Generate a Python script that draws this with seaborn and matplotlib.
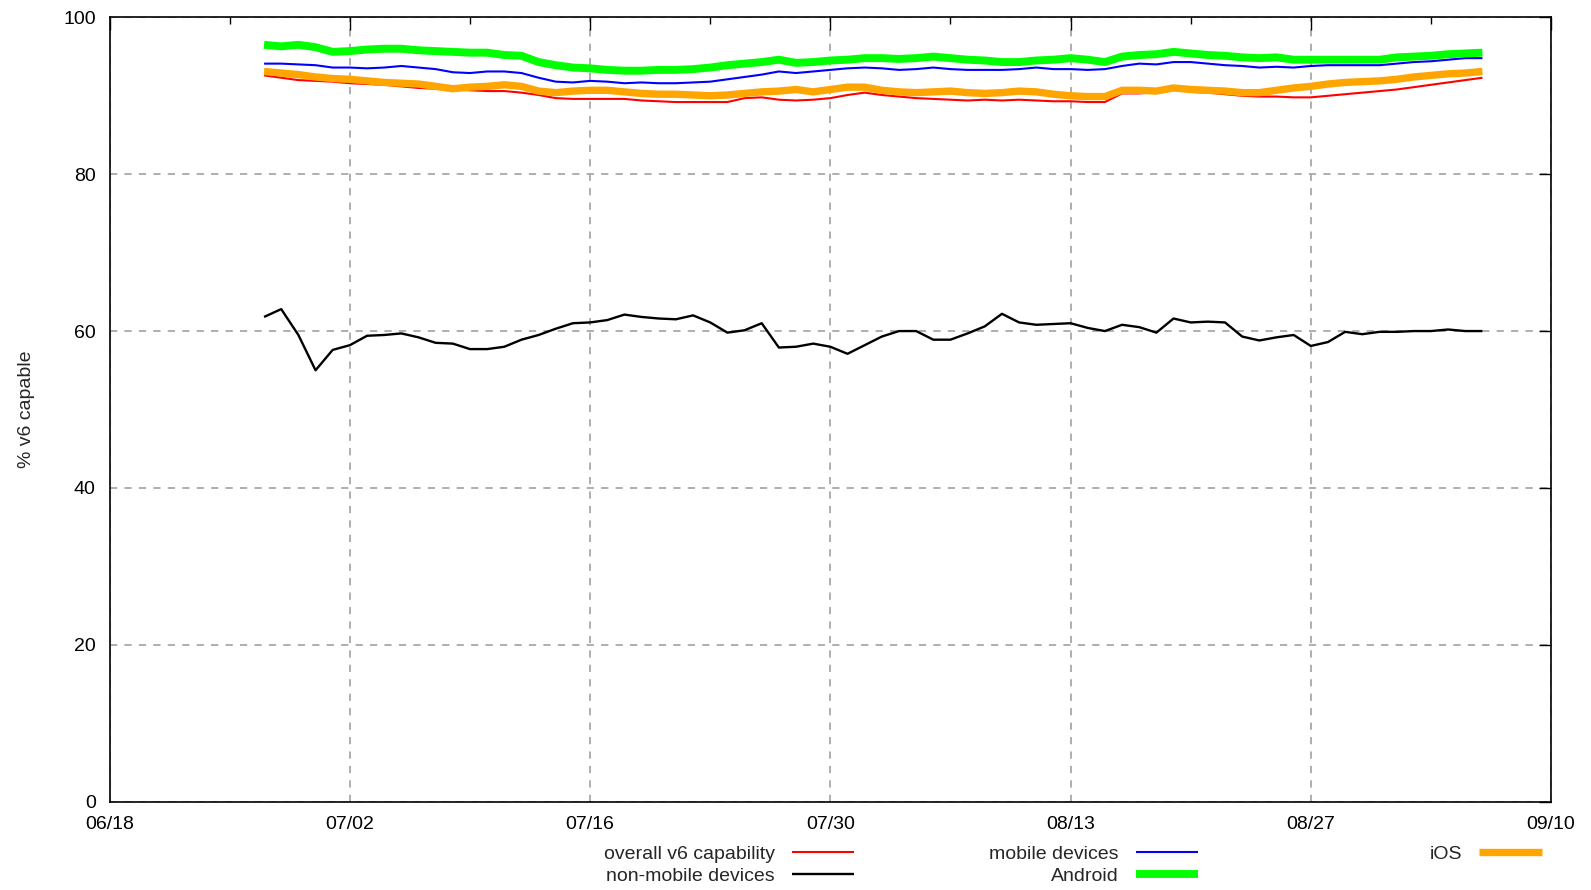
import matplotlib
matplotlib.use('Agg')
import matplotlib.pyplot as plt
import matplotlib.dates as mdates
import pandas as pd
import seaborn as sns

# daily values, 06/27 .. 09/06
dates = pd.date_range('2018-06-27', '2018-09-06', freq='D')

overall = [92.6, 92.3, 92.0, 91.9, 91.8, 91.6, 91.5, 91.4, 91.2, 91.0, 90.9, 90.8, 90.7, 90.6, 90.6, 90.4, 90.1, 89.7,
           89.6, 89.6, 89.6, 89.6, 89.4, 89.3, 89.2, 89.2, 89.2, 89.2, 89.7, 89.8, 89.5, 89.4, 89.5, 89.7, 90.1, 90.4,
           90.1, 89.9, 89.7, 89.6, 89.5, 89.4, 89.5, 89.4, 89.5, 89.4, 89.3, 89.3, 89.2, 89.2, 90.3, 90.3, 90.5, 90.8,
           90.5, 90.4, 90.2, 90.0, 89.9, 89.9, 89.8, 89.8, 90.0, 90.2, 90.4, 90.6, 90.8, 91.1, 91.4, 91.7, 92.0, 92.3]
non_mobile = [61.8, 62.8, 59.5, 55.0, 57.6, 58.2, 59.4, 59.5, 59.7, 59.2, 58.5, 58.4, 57.7, 57.7, 58.0, 58.9, 59.5, 60.3,
              61.0, 61.1, 61.4, 62.1, 61.8, 61.6, 61.5, 62.0, 61.1, 59.8, 60.1, 61.0, 57.9, 58.0, 58.4, 58.0, 57.1, 58.2,
              59.3, 60.0, 60.0, 58.9, 58.9, 59.7, 60.6, 62.2, 61.1, 60.8, 60.9, 61.0, 60.4, 60.0, 60.8, 60.5, 59.8, 61.6,
              61.1, 61.2, 61.1, 59.3, 58.8, 59.2, 59.5, 58.1, 58.6, 59.9, 59.6, 59.9, 59.9, 60.0, 60.0, 60.2, 60.0, 60.0]
mobile = [94.1, 94.1, 94.0, 93.9, 93.6, 93.6, 93.5, 93.6, 93.8, 93.6, 93.4, 93.0, 92.9, 93.1, 93.1, 92.9, 92.3, 91.8,
          91.7, 91.9, 91.8, 91.6, 91.7, 91.6, 91.6, 91.7, 91.8, 92.1, 92.4, 92.7, 93.1, 92.9, 93.1, 93.3, 93.5, 93.6,
          93.5, 93.3, 93.4, 93.6, 93.4, 93.3, 93.3, 93.3, 93.4, 93.6, 93.4, 93.4, 93.3, 93.4, 93.8, 94.1, 94.0, 94.3,
          94.3, 94.1, 93.9, 93.8, 93.6, 93.7, 93.6, 93.8, 93.9, 93.9, 93.9, 93.9, 94.1, 94.3, 94.4, 94.6, 94.8, 94.8]
android = [96.5, 96.3, 96.5, 96.2, 95.6, 95.7, 95.9, 96.0, 96.0, 95.8, 95.7, 95.6, 95.5, 95.5, 95.2, 95.1, 94.3, 93.9,
           93.6, 93.5, 93.3, 93.2, 93.2, 93.3, 93.3, 93.4, 93.6, 93.9, 94.1, 94.3, 94.6, 94.2, 94.3, 94.5, 94.6, 94.8,
           94.8, 94.7, 94.8, 95.0, 94.8, 94.6, 94.5, 94.3, 94.3, 94.5, 94.6, 94.8, 94.6, 94.3, 95.0, 95.2, 95.3, 95.6,
           95.4, 95.2, 95.1, 94.9, 94.8, 94.9, 94.6, 94.6, 94.6, 94.6, 94.6, 94.6, 94.9, 95.0, 95.1, 95.3, 95.4, 95.5]
ios = [93.1, 92.9, 92.7, 92.4, 92.2, 92.1, 91.9, 91.7, 91.6, 91.5, 91.2, 90.9, 91.1, 91.2, 91.4, 91.2, 90.6, 90.4,
       90.6, 90.7, 90.7, 90.5, 90.3, 90.2, 90.2, 90.1, 90.0, 90.1, 90.3, 90.5, 90.6, 90.8, 90.5, 90.8, 91.1, 91.1,
       90.7, 90.5, 90.4, 90.5, 90.6, 90.4, 90.3, 90.4, 90.6, 90.5, 90.2, 90.0, 89.9, 89.9, 90.7, 90.7, 90.6, 91.0,
       90.8, 90.7, 90.6, 90.4, 90.4, 90.7, 91.0, 91.2, 91.5, 91.7, 91.8, 91.9, 92.1, 92.4, 92.6, 92.8, 92.9, 93.1]

sns.set_style('white')
plt.rcParams['font.family'] = ['Liberation Sans', 'DejaVu Sans']
FS = 14

fig = plt.figure(figsize=(15.91, 8.90), dpi=100)
ax = fig.add_axes([0.0689, 0.0993, 0.906, 0.8812])

styles = [
    ('overall v6 capability', overall, '#ff0000', 1.5),
    ('mobile devices', mobile, '#0000ff', 1.5),
    ('non-mobile devices', non_mobile, '#000000', 1.7),
    ('Android', android, '#00ff00', 5.7),
    ('iOS', ios, '#ffa500', 5.3),
]
handles = {}
for name, vals, color, lw in styles:
    sns.lineplot(x=dates, y=vals, color=color, linewidth=lw, label=name, legend=False, ax=ax,
                 solid_capstyle='butt')
    handles[name] = ax.lines[-1]

ax.set_xlim(pd.Timestamp('2018-06-18'), pd.Timestamp('2018-09-10'))
ax.set_ylim(0, 100)
major = pd.date_range('2018-06-18', periods=7, freq='14D')
minor = pd.date_range('2018-06-25', periods=6, freq='14D')
ax.set_xticks(mdates.date2num(major))
ax.set_xticks(mdates.date2num(minor), minor=True)
ax.xaxis.set_major_formatter(mdates.DateFormatter('%m/%d'))
ax.set_yticks(range(0, 101, 20))

ax.grid(True, which='major', color='#a8a8a8', linestyle=(0, (4, 4)), linewidth=1.3)
ax.tick_params(which='both', direction='in', top=True, right=True, colors='black',
               labelsize=FS, width=1)
ax.tick_params(which='major', length=9, pad=10)
ax.tick_params(which='minor', length=5)
for sp in ax.spines.values():
    sp.set_color('black')
    sp.set_linewidth(1.2)

ax.set_xlabel('')
ax.set_ylabel('% v6 capable', fontsize=FS, labelpad=20)

# gnuplot-style key below the plot, three columns
cols = [
    (['overall v6 capability', 'non-mobile devices'], 0.537),
    (['mobile devices', 'Android'], 0.753),
    (['iOS'], 0.969),
]
for names, xr in cols:
    fig.legend([handles[n] for n in names], names, loc='upper right', bbox_to_anchor=(xr, 0.050),
               markerfirst=False, frameon=False, fontsize=FS, handlelength=3.2, handletextpad=0.9,
               labelspacing=0.2, borderpad=0, borderaxespad=0)

fig.savefig('out.png', dpi=100)
